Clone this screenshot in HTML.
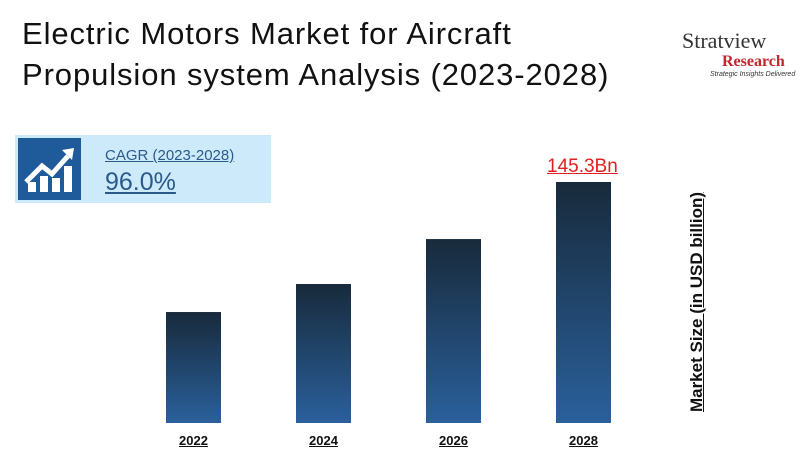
<!DOCTYPE html>
<html><head><meta charset="utf-8"><style>
body{margin:0;width:800px;height:458px;background:#fff;font-family:"Liberation Sans",sans-serif;position:relative;overflow:hidden}
.t{position:absolute;left:22px;top:13px;font-size:31px;line-height:41px;color:#111;font-family:"Liberation Sans",sans-serif;letter-spacing:0.9px}
.cagr{position:absolute;left:15px;top:135px;width:256px;height:68px;background:#cdeafb}
.icon{position:absolute;left:18px;top:138px;width:63px;height:62px;background:#1f5b9a}
.ct{position:absolute;left:105px;top:147px;font-size:15px;color:#2a5a8a;text-decoration:underline}
.cv{position:absolute;left:105px;top:168px;font-size:25px;color:#2a5a8a;text-decoration:underline}
.xl{position:absolute;top:433px;font-size:13px;font-weight:bold;text-decoration:underline;width:60px;text-align:center;color:#111}
.yl{position:absolute;left:697px;top:302px;transform:translate(-50%,-50%) rotate(-90deg);white-space:nowrap;font-size:17px;font-weight:bold;text-decoration:underline;color:#111}
.val{position:absolute;top:157px;font-size:19px;color:#e02020;text-decoration:underline}
</style></head><body>
<div class="t">Electric Motors Market for Aircraft<br>Propulsion system Analysis (2023-2028)</div>
<div style="position:absolute;left:682px;top:10px;width:118px;height:65px">
<div style="position:absolute;left:0;top:18px;font-family:'Liberation Serif',serif;font-size:22px;color:#333">Stratview</div>
<div style="position:absolute;left:40px;top:43px;font-family:'Liberation Serif',serif;font-weight:bold;font-size:16px;color:#c0282d">Research</div>
<div style="position:absolute;left:28px;top:61px;font-size:7px;font-style:italic;color:#333;white-space:nowrap">Strategic Insights Delivered</div>
</div>
<div class="cagr"></div>
<div class="icon">
<svg width="63" height="62"><g fill="#fff"><rect x="10" y="44" width="8" height="10"/><rect x="22" y="38" width="8" height="16"/><rect x="34" y="40" width="8" height="14"/><rect x="46" y="28" width="8" height="26"/></g><polyline points="8,44 24,28 34,36 50,18" stroke="#fff" stroke-width="5" fill="none"/><polygon points="44,12 56,10 54,22" fill="#fff"/></svg></div>
<div class="ct">CAGR (2023-2028)</div>
<div class="cv">96.0%</div>
<svg id="c" width="800" height="458" style="position:absolute;left:0;top:0">
<defs><linearGradient id="g" x1="0" y1="0" x2="0" y2="1"><stop offset="0" stop-color="#182a3b"/><stop offset="1" stop-color="#2a609c"/></linearGradient></defs>
</svg>
<div class="yl">Market Size (in USD billion)</div>
<script>
const categories=["2022","2024","2026","2028"];
const values=[66.9,83.8,110.9,145.3];
const labels=[null,null,null,"145.3Bn"];
const base=423,scale=241/145.3,x0=166,step=130,bw=55;
const svg=document.getElementById('c');
categories.forEach((c,i)=>{
 const h=values[i]*scale,x=x0+i*step;
 const r=document.createElementNS('http://www.w3.org/2000/svg','rect');
 r.setAttribute('x',x);r.setAttribute('y',base-h);r.setAttribute('width',bw);r.setAttribute('height',h);r.setAttribute('fill','url(#g)');
 
 
 svg.appendChild(r);
 const l=document.createElement('div');l.className='xl';l.style.left=(x+bw/2-30)+'px';l.textContent=c;
 
 
 document.body.appendChild(l);
 if(labels[i]){const v=document.createElement('div');v.className='val';v.style.left=(x-9)+'px';v.style.top=(base-h-26)+'px';v.textContent=labels[i];
 
 
 document.body.appendChild(v);}
});
</script>
</body></html>
